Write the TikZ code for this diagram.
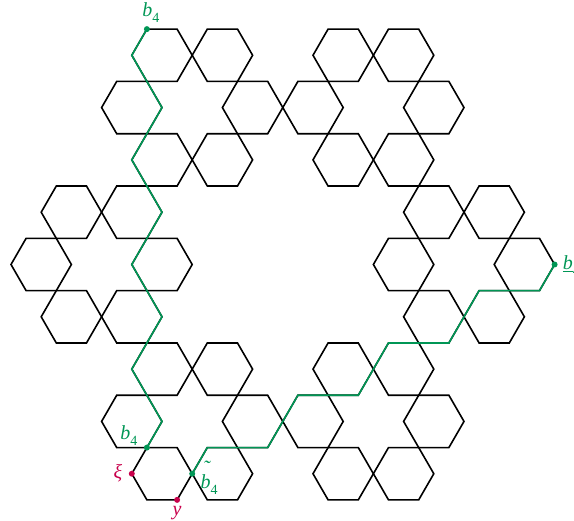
\documentclass[tikz,border=0pt]{standalone}
\usepackage{fontspec}
\setmainfont{Liberation Serif}
\usetikzlibrary{calc}
\definecolor{pathgreen}{RGB}{0,150,85}
\definecolor{ptred}{RGB}{200,0,75}
\newcommand{\sub}[1]{\raisebox{-0.28em}{\fontsize{14}{14}\selectfont\upshape #1}}
\newcommand{\barbee}{\rlap{\hspace{0.12em}\rule[0.86em]{0.42em}{0.06em}}b}
\newcommand{\tilbee}{\rlap{\raisebox{0.72em}{\hspace{0.12em}\char"02DC}}b}
\newcommand{\undbee}{\rlap{\hspace{0.0em}\rule[-0.12em]{0.5em}{0.06em}}b}
\begin{document}
\begin{tikzpicture}[x=1pt,y=-1pt,
  hex/.style={black,line width=1.6pt,line join=miter},
  gpath/.style={pathgreen,line width=1.6pt,line join=miter},
  gdot/.style={circle,fill=pathgreen,inner sep=0pt,minimum size=6pt},
  rdot/.style={circle,fill=ptred,inner sep=0pt,minimum size=6pt},
  glabel/.style={text=pathgreen,inner sep=0pt,font=\fontsize{20}{20}\selectfont\itshape},
  rlabel/.style={text=ptred,inner sep=0pt,font=\fontsize{20}{20}\selectfont\itshape}]
\useasboundingbox (0,0) rectangle (574,521);
\clip (0,0) rectangle (574,521);
\begin{scope}[shift={(282.8,264.5)},x=30.2pt,y=30.2pt]
  \foreach \k in {0,...,5}{
    \foreach \j in {0,...,5}{
      \draw[hex,shift={({60*\k}:6)},shift={({60*\j}:2)}]
        (0:1)--(60:1)--(120:1)--(180:1)--(240:1)--(300:1)--cycle;
    }
  }
  % left green path
  \coordinate (L0) at (-4.5,7.794);
  \coordinate (L1) at (-5,6.928);
  \coordinate (L2) at (-4,5.196);
  \coordinate (L3) at (-5,3.464);
  \coordinate (L4) at (-4,1.732);
  \coordinate (L5) at (-5,0);
  \coordinate (L6) at (-4,-1.732);
  \coordinate (L7) at (-5,-3.464);
  \coordinate (L8) at (-4,-5.196);
  \coordinate (L9) at (-4.5,-6.062);
  % right green path
  \coordinate (R0) at (-3,-6.928);
  \coordinate (R1) at (-2.5,-6.062);
  \coordinate (R2) at (-0.5,-6.062);
  \coordinate (R3) at (0.5,-4.330);
  \coordinate (R4) at (2.5,-4.330);
  \coordinate (R5) at (3.5,-2.598);
  \coordinate (R6) at (5.5,-2.598);
  \coordinate (R7) at (6.5,-0.866);
  \coordinate (R8) at (8.5,-0.866);
  \coordinate (R9) at (9,0);
  \coordinate (XI) at (-5,-6.928);
  \coordinate (YY) at (-3.5,-7.794);
\end{scope}
\draw[gpath] (L0)--(L1)--(L2)--(L3)--(L4)--(L5)--(L6)--(L7)--(L8)--(L9);
\draw[gpath] (R0)--(R1)--(R2)--(R3)--(R4)--(R5)--(R6)--(R7)--(R8)--(R9);
\node[gdot] (bbar) at (L0) {};
\node[gdot] (bfour) at (L9) {};
\node[gdot] (btil) at (R0) {};
\node[gdot] (bund) at (R9) {};
\node[rdot] (xi) at (XI) {};
\node[rdot] (yp) at (YY) {};
\node[glabel] (lbbar) at ($(bbar)+(4,-19)$) {\barbee\sub{4}};
\node[glabel] (lbfour) at ($(bfour)+(-18,-12)$) {b\sub{4}};
\node[glabel] (lbtil) at ($(btil)+(17,4)$) {\tilbee\sub{4}};
\node[glabel,anchor=west] (lbund) at ($(bund)+(8,1)$) {\undbee\sub{4}};
\node[rlabel] (lxi) at ($(xi)+(-14,0)$) {ξ};
\node[rlabel] (lyp) at ($(yp)+(0,13)$) {y};
\end{tikzpicture}
\end{document}
